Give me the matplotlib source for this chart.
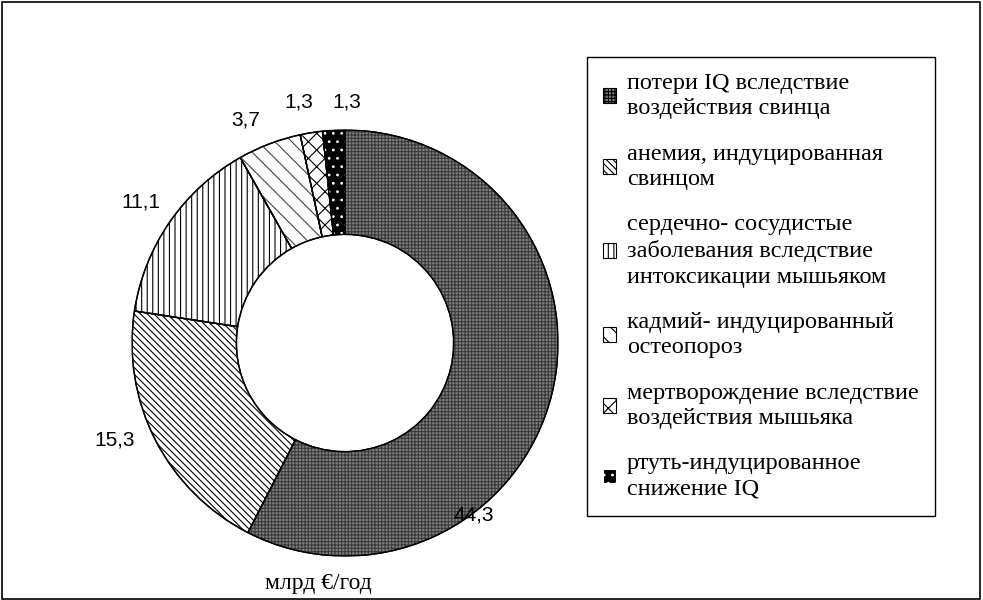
import matplotlib.pyplot as plt
from matplotlib.patches import Rectangle, Wedge

CATEGORIES = [
    "потери IQ вследствие\nвоздействия свинца",
    "анемия, индуцированная\nсвинцом",
    "сердечно- сосудистые\nзаболевания вследствие\nинтоксикации мышьяком",
    "кадмий- индуцированный\nостеопороз",
    "мертворождение вследствие\nвоздействия мышьяка",
    "ртуть-индуцированное\nснижение IQ",
]
VALUES = [44.3, 15.3, 11.1, 3.7, 1.3, 1.3]
VALUE_LABELS = ["44,3", "15,3", "11,1", "3,7", "1,3", "1,3"]
UNIT_LABEL = "млрд €/год"

# fill, hatch, hatch colour per slice
FACES = ["#808080", "white", "white", "white", "white", "black"]
HATCHES = ["+++++", "\\\\\\\\\\", "|||", "\\\\", "xx", ".."]
HATCH_COLORS = ["#3a3a3a", "black", "black", "#444444", "black", "white"]

# label positions in axes data units (radius = 1)
LABEL_POS = [(0.606, -0.808), (-1.080, -0.455), (-0.958, 0.662),
             (-0.465, 1.047), (-0.216, 1.131), (0.009, 1.131)]

plt.rcParams["hatch.linewidth"] = 0.8

fig = plt.figure(figsize=(9.83, 6.0), dpi=100)
fig.patches.append(Rectangle((0.002, 0.002), 0.995, 0.995, transform=fig.transFigure,
                             fill=False, edgecolor="black", linewidth=1.2))

ax = fig.add_axes([0.1343, 0.0733, 0.4334, 0.71])
wedges, _ = ax.pie(VALUES, startangle=90, counterclock=False, radius=1.0,
                   colors=FACES,
                   wedgeprops=dict(width=0.49, edgecolor="black", linewidth=1.0))

handles = []
for w, h, hc, fc in zip(wedges, HATCHES, HATCH_COLORS, FACES):
    over = Wedge(w.center, w.r, w.theta1, w.theta2, width=w.width,
                 fill=False, hatch=h, edgecolor=hc, linewidth=0)
    ax.add_patch(over)
    outline = Wedge(w.center, w.r, w.theta1, w.theta2, width=w.width,
                    fill=False, edgecolor="black", linewidth=1.0)
    ax.add_patch(outline)
    handles.append(Rectangle((0, 0), 1, 1, facecolor=fc, hatch=h,
                             edgecolor=hc if fc == "black" else "black",
                             linewidth=0.8))

for txt, (x, y) in zip(VALUE_LABELS, LABEL_POS):
    ax.text(x, y, txt, ha="center", va="center", fontsize=15,
            family="Liberation Sans")

ax.set_xlim(-1, 1)
ax.set_ylim(-1, 1)
ax.set_aspect("equal")
ax.axis("off")

fig.text(318 / 983, 1 - 583 / 600, UNIT_LABEL, ha="center", va="center",
         fontsize=17, family="Liberation Serif")

leg = fig.legend(handles, CATEGORIES, loc="upper left",
                 bbox_to_anchor=(587 / 983, 1 - 57 / 600), borderaxespad=0,
                 prop=dict(family="Liberation Serif", size=17.5),
                 handlelength=0.55, handleheight=0.55, handletextpad=0.45,
                 labelspacing=1.0, borderpad=0.65, fancybox=False,
                 framealpha=1, edgecolor="black")
leg.get_frame().set_linewidth(1.0)
for t in leg.get_texts():
    t.set_linespacing(1.28)

fig.savefig("out.png", dpi=100)
